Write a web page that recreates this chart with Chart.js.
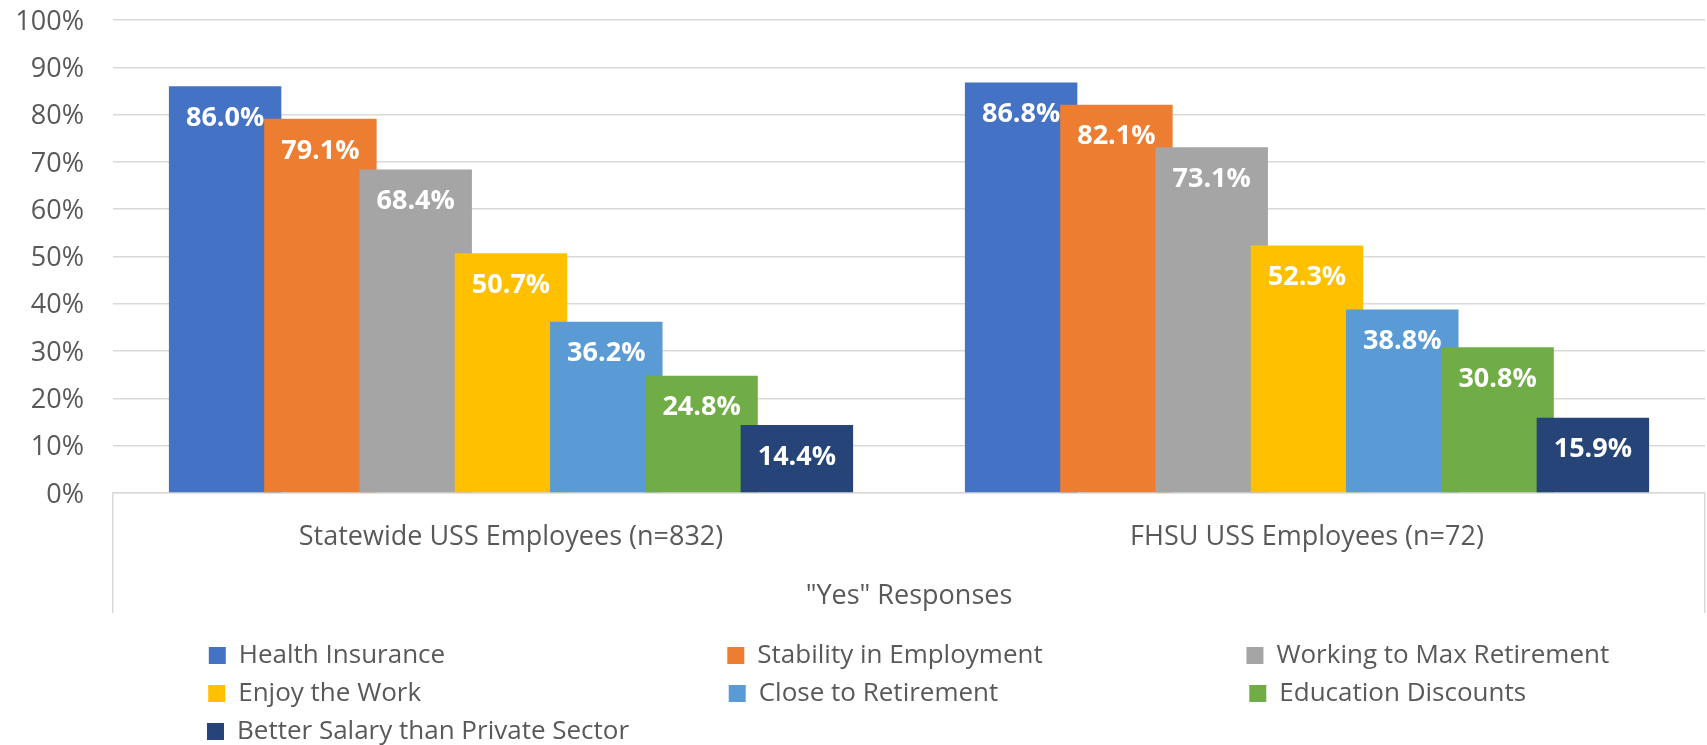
<!DOCTYPE html>
<html>
<head>
<meta charset="utf-8">
<script src="https://cdn.jsdelivr.net/npm/chart.js@4.4.1/dist/chart.umd.min.js"></script>
<style>
  html, body { margin: 0; padding: 0; background: #ffffff; }
  #wrap { position: relative; width: 1707px; height: 745px; }
</style>
</head>
<body>
<div id="wrap"><canvas id="chart"></canvas></div>
<script>
// ---------- data ----------
const categories = ['Statewide USS Employees (n=832)', 'FHSU USS Employees (n=72)'];
const seriesNames = [
  'Health Insurance',
  'Stability in Employment',
  'Working to Max Retirement',
  'Enjoy the Work',
  'Close to Retirement',
  'Education Discounts',
  'Better Salary than Private Sector'
];
const healthInsurance        = [86.0, 86.8];
const stabilityInEmployment  = [79.1, 82.1];
const workingToMaxRetirement = [68.4, 73.1];
const enjoyTheWork           = [50.7, 52.3];
const closeToRetirement      = [36.2, 38.8];
const educationDiscounts     = [24.8, 30.8];
const betterSalary           = [14.4, 15.9];
const seriesValues = [healthInsurance, stabilityInEmployment, workingToMaxRetirement,
  enjoyTheWork, closeToRetirement, educationDiscounts, betterSalary];
const axisTitle = '"Yes" Responses';

// ---------- style ----------
const palette = ['#4472C4', '#ED7D31', '#A5A5A5', '#FFC000', '#5B9BD5', '#70AD47', '#264478'];
const FONT = "'Open Sans', sans-serif";
const TEXT = '#595959';
const GRID = '#D9D9D9';
const TICK_SIZE = 27;
const LEG_SIZE = 26, LEG_BOX = 17, LEG_PAD = 12, COL_STEP = 521, COLS = 3;

// value labels ("inside end", white bold)
const valueLabels = {
  id: 'valueLabels',
  afterDatasetsDraw(chart) {
    const ctx = chart.ctx;
    ctx.save();
    ctx.font = 'bold ' + TICK_SIZE + 'px ' + FONT;
    ctx.fillStyle = '#ffffff';
    ctx.textAlign = 'center';
    ctx.textBaseline = 'middle';
    chart.data.datasets.forEach((ds, i) => {
      const meta = chart.getDatasetMeta(i);
      meta.data.forEach((bar, j) => {
        ctx.fillText(ds.data[j].toFixed(1) + '%', bar.x, bar.y + 32);
      });
    });
    ctx.restore();
  }
};

// legend laid out as an Excel-like 3-column grid
function alignedLegendLabels(chart) {
  const items = Chart.defaults.plugins.legend.labels.generateLabels(chart)
    .sort((a, b) => a.datasetIndex - b.datasetIndex);
  const ctx = chart.ctx;
  ctx.save();
  ctx.font = LEG_SIZE + 'px ' + FONT;
  const w = t => ctx.measureText(t).width;
  const extra = LEG_BOX + LEG_SIZE / 2;
  let lastColWidth = 0;
  items.forEach((it, i) => { if (i % COLS === COLS - 1) lastColWidth = Math.max(lastColWidth, w(it.text)); });
  const pad = (t, target) => {
    let s = t, g = 0;
    while (w(s + ' ') <= target && g++ < 300) s += ' ';
    g = 0;
    while (w(s + '\u200A') <= target && g++ < 300) s += '\u200A';
    return s;
  };
  items.forEach((it, i) => {
    const col = i % COLS;
    const last = col === COLS - 1 || i === items.length - 1;
    const target = last ? (COLS - 1 - col) * COL_STEP + lastColWidth : COL_STEP - LEG_PAD - extra;
    it.text = pad(it.text, target);
  });
  ctx.restore();
  return items;
}

new Chart(document.getElementById('chart'), {
  type: 'bar',
  data: {
    labels: categories,
    datasets: seriesNames.map((name, i) => ({
      label: name,
      data: seriesValues[i],
      backgroundColor: palette[i],
      borderWidth: 0,
      // later series painted over earlier ones, group laid out left-to-right
      order: seriesNames.length - 1 - i,
      categoryPercentage: -0.838,
      barPercentage: -1.18
    }))
  },
  options: {
    responsive: true,
    maintainAspectRatio: false,
    animation: false,
    layout: { padding: { top: 20, right: 2, bottom: -9.5, left: 0 } },
    plugins: {
      legend: {
        position: 'bottom',
        fullSize: false,
        align: 'center',
        labels: {
          font: { family: FONT, size: LEG_SIZE },
          color: TEXT,
          boxWidth: LEG_BOX,
          boxHeight: LEG_BOX,
          padding: LEG_PAD,
          generateLabels: alignedLegendLabels
        }
      },
      tooltip: { enabled: false }
    },
    scales: {
      x: {
        offset: true,
        grid: {
          offset: true,
          drawOnChartArea: false,
          drawTicks: true,
          tickLength: 120,
          lineWidth: 1.5,
          color: c => (c.index === 1 ? 'rgba(0,0,0,0)' : GRID)
        },
        border: { display: true, color: GRID, width: 1.5 },
        ticks: {
          font: { family: FONT, size: TICK_SIZE },
          color: TEXT,
          padding: -91.7,
          maxRotation: 0,
          autoSkip: false
        },
        title: {
          display: true,
          text: axisTitle,
          font: { family: FONT, size: TICK_SIZE },
          color: TEXT,
          padding: { top: 0, bottom: 18 }
        },
        afterFit(scale) { scale.height = 137.5; }
      },
      y: {
        min: 0,
        max: 100,
        ticks: {
          stepSize: 10,
          callback: v => v + '%',
          font: { family: FONT, size: TICK_SIZE },
          color: TEXT,
          padding: 29,
          labelOffset: 2
        },
        grid: { color: GRID, lineWidth: 1.5, drawTicks: false },
        border: { display: false },
        afterFit(scale) { scale.width = 113; scale.paddingTop = 0; scale.paddingBottom = 0; }
      }
    }
  },
  plugins: [valueLabels]
});
</script>
</body>
</html>
